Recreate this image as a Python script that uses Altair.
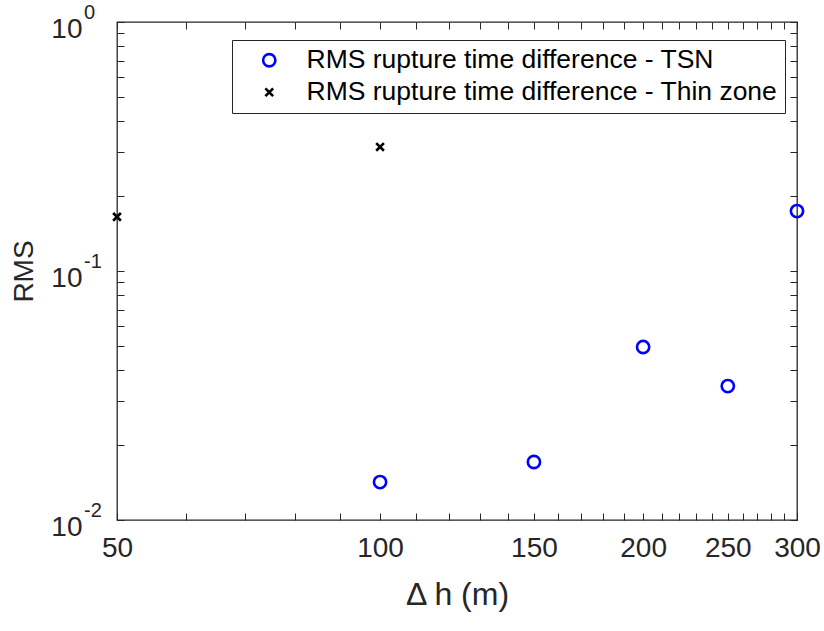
import altair as alt
import pandas as pd

# ---- data ----
tsn_dh = [100, 150, 200, 250, 300]
tsn_rms = [0.0142, 0.0171, 0.0495, 0.0345, 0.174]
thin_dh = [50, 100]
thin_rms = [0.165, 0.315]
series_names = ["RMS rupture time difference - TSN",
                "RMS rupture time difference - Thin zone"]
x_major = [50, 100, 150, 200, 250, 300]
x_ticks = [50, 60, 70, 80, 90, 100, 110, 120, 130, 140, 150, 160, 170, 180, 190,
           200, 210, 220, 230, 240, 250, 260, 270, 280, 290, 300]
y_ticks = [0.01, 0.02, 0.03, 0.04, 0.05, 0.06, 0.07, 0.08, 0.09,
           0.1, 0.2, 0.3, 0.4, 0.5, 0.6, 0.7, 0.8, 0.9, 1]
y_major = [0.01, 0.1, 1]
y_exponents = ["-2", "-1", "0"]

df = pd.DataFrame({
    "dh": tsn_dh + thin_dh,
    "rms": tsn_rms + thin_rms,
    "series": [series_names[0]] * len(tsn_dh) + [series_names[1]] * len(thin_dh),
})
exp_df = pd.DataFrame({"rms": y_major, "exp": y_exponents})

INK = "#262626"
FONT = "Liberation Sans"

x_lab_expr = "indexof([" + ",".join(str(v) for v in x_major) + "], datum.value) >= 0 ? datum.label : ''"
y_lab_expr = "(datum.value == 0.01 || datum.value == 0.1 || datum.value == 1) ? '10' : ''"

xscale = alt.Scale(type="log", domain=[50, 300], nice=False)
yscale = alt.Scale(type="log", domain=[0.01, 1], nice=False)

TICK = 7

points = alt.Chart(df).mark_point(filled=False, strokeWidth=2.6, opacity=1).encode(
    x=alt.X("dh:Q", scale=xscale,
            axis=alt.Axis(values=x_ticks, labelExpr=x_lab_expr, title="Δ h (m)",
                          orient="bottom", offset=-TICK, tickSize=TICK, domain=False,
                          grid=False, labelFlush=False, labelPadding=14,
                          labelFontSize=28, titleFontSize=32, titlePadding=17,
                          titleFontWeight="normal", tickColor=INK, labelColor=INK,
                          titleColor=INK, labelFont=FONT, titleFont=FONT,
                          labelOverlap=False)),
    y=alt.Y("rms:Q", scale=yscale,
            axis=alt.Axis(values=y_ticks, labelExpr=y_lab_expr, title="RMS",
                          orient="left", offset=-TICK, tickSize=TICK, domain=False,
                          grid=False, labelFlush=False, labelPadding=35,
                          labelOffset=7,
                          labelFontSize=28, titleFontSize=28, titlePadding=12,
                          titleFontWeight="normal", tickColor=INK, labelColor=INK,
                          titleColor=INK, labelFont=FONT, titleFont=FONT,
                          labelOverlap=False)),
    color=alt.Color("series:N",
                    scale=alt.Scale(domain=series_names, range=["#0000FF", "#000000"]),
                    legend=alt.Legend(title=None, orient="none", legendX=115, legendY=18,
                                      labelFontSize=26.5, labelFont=FONT, labelColor="#000000",
                                      strokeColor=INK, fillColor="white", padding=7,
                                      rowPadding=5, symbolStrokeWidth=2.6,
                                      symbolOffset=17,
                                      labelOffset=24, labelLimit=800,
                                      offset=0)),
    shape=alt.Shape("series:N",
                    scale=alt.Scale(domain=series_names,
                                    range=["circle", "M-1,-1L1,1M-1,1L1,-1"])),
    size=alt.Size("series:N",
                  scale=alt.Scale(domain=series_names, range=[150, 60])),
)

exps = alt.Chart(exp_df).mark_text(
    align="left", baseline="middle", fontSize=20, font=FONT, color=INK, dy=-9
).encode(
    x=alt.value(-33),
    y=alt.Y("rms:Q", scale=yscale, axis=None),
    text="exp:N",
)

frame = alt.Chart(df).mark_point(opacity=0).encode(
    x=alt.X("dh:Q", scale=xscale,
            axis=alt.Axis(values=x_ticks, labels=False, title=None, orient="top",
                          offset=-TICK, tickSize=TICK, domain=False, grid=False,
                          tickColor=INK)),
    y=alt.Y("rms:Q", scale=yscale,
            axis=alt.Axis(values=y_ticks, labels=False, title=None, orient="right",
                          offset=-TICK, tickSize=TICK, domain=False, grid=False,
                          tickColor=INK)),
)

chart = alt.layer(points, frame, exps).resolve_axis(
    x="independent", y="independent"
).properties(
    width=680, height=498,
    autosize=alt.AutoSizeParams(type="none"),
    padding={"left": 117, "top": 22, "right": 27, "bottom": 111},
    background="white",
).configure_view(
    stroke=INK, strokeWidth=1.3
)

chart.save("out.html", embed_options={"renderer": "svg", "actions": False})
